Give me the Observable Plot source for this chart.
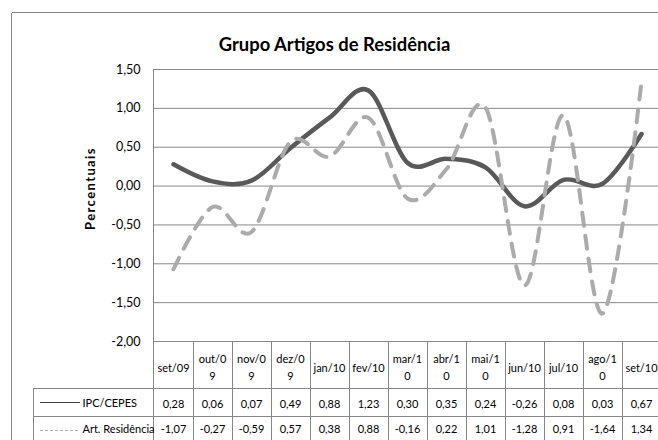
<!DOCTYPE html>
<html>
<head>
<meta charset="utf-8">
<script src="https://cdn.jsdelivr.net/npm/d3@7"></script>
<script src="https://cdn.jsdelivr.net/npm/@observablehq/plot@0.6"></script>
<style>
  html, body { margin: 0; padding: 0; background: #fff; }
  #chart svg { display: block; overflow: visible; }
</style>
</head>
<body>
<div id="chart"></div>
<script>
// ---- data ----
const categories = ["set/09","out/09","nov/09","dez/09","jan/10","fev/10","mar/10","abr/10","mai/10","jun/10","jul/10","ago/10","set/10"];
const tickLabels = ["set/09","out/0\n9","nov/0\n9","dez/0\n9","jan/10","fev/10","mar/1\n0","abr/1\n0","mai/1\n0","jun/10","jul/10","ago/1\n0","set/10"];
const ipcValues = [0.28, 0.06, 0.07, 0.49, 0.88, 1.23, 0.30, 0.35, 0.24, -0.26, 0.08, 0.03, 0.67];
const artValues = [-1.07, -0.27, -0.59, 0.57, 0.38, 0.88, -0.16, 0.22, 1.01, -1.28, 0.91, -1.64, 1.34];
const yTicks = [-2, -1.5, -1, -0.5, 0, 0.5, 1, 1.5];
const seriesNames = ["IPC/CEPES", "Art. Residência"];
const title = "Grupo Artigos de Residência";
const yLabel = "Percentuais";

const ipc = categories.map((c, i) => ({cat: c, v: ipcValues[i]}));
const art = categories.map((c, i) => ({cat: c, v: artValues[i]}));
const fmt = v => v.toFixed(2).replace(".", ",");

const W = 658, H = 440;
const mL = 153, mR = 0, mT = 69, mB = 99;
const gridColor = "#878787";
const ipcColor = "#595959";
const artColor = "#ababab";

// table structure (lines, legend samples, outer border) drawn with the plot's scales
function tableGrid(index, scales, values, dims) {
  const x = scales.x;
  const step = x(categories[1]) - x(categories[0]);
  const yb = dims.height - dims.marginBottom;
  const g = d3.create("svg:g").attr("fill", "none").attr("shape-rendering", "crispEdges");
  const line = (x1, y1, x2, y2, color = gridColor, w = 1, dash = null) =>
    g.append("line").attr("x1", x1).attr("y1", y1).attr("x2", x2).attr("y2", y2)
      .attr("stroke", color).attr("stroke-width", w).attr("stroke-dasharray", dash);
  // outer chart border
  line(11.5, 12.5, dims.width + 5, 12.5);
  line(11.5, 12.5, 11.5, dims.height + 5);
  // y axis line through the table
  line(dims.marginLeft + 0.5, dims.marginTop, dims.marginLeft + 0.5, dims.height + 5);
  // column boundaries
  categories.forEach(c => {
    const xb = Math.round(x(c) + step / 2) + 0.5;
    line(xb, yb, xb, dims.height + 5);
  });
  // row lines
  [yb + 47.5, yb + 75.5].forEach(yy => line(33, yy, dims.width + 5, yy));
  line(33.5, yb + 47, 33.5, dims.height + 5);
  // legend samples
  g.append("line").attr("x1", 40).attr("x2", 80).attr("y1", yb + 61.5).attr("y2", yb + 61.5)
    .attr("stroke", "#404040").attr("stroke-width", 1.2);
  g.append("line").attr("x1", 40).attr("x2", 80).attr("y1", yb + 89.5).attr("y2", yb + 89.5)
    .attr("stroke", artColor).attr("stroke-width", 1).attr("stroke-dasharray", "3,2");
  return g.node();
}

const chart = Plot.plot({
  width: W, height: H,
  marginLeft: mL, marginRight: mR, marginTop: mT, marginBottom: mB,
  style: {fontFamily: "Lato, 'Open Sans', sans-serif", background: "#fff", color: "#000"},
  x: {type: "point", domain: categories, range: [mL, mL + (W - mL) * 13 / 12.9], padding: 0.5, axis: null},
  y: {domain: [-2, 1.5], axis: null},
  marks: [
    Plot.gridY(yTicks, {stroke: gridColor, strokeOpacity: 1, strokeWidth: 1}),
    Plot.axisY(yTicks, {tickFormat: fmt, tickSize: 0, tickPadding: 13, fontSize: 12.5, label: null}),
    tableGrid,
    Plot.line(ipc, {x: "cat", y: "v", curve: "cardinal", stroke: ipcColor, strokeWidth: 4.5}),
    Plot.line(art, {x: "cat", y: "v", curve: "cardinal", stroke: artColor, strokeWidth: 4, strokeDasharray: "13,10", strokeLinecap: "round"}),
    // title & y label
    Plot.text([title], {frameAnchor: "top-left", dx: 181, dy: -24, textAnchor: "middle", lineAnchor: "middle", fontSize: 18.4, fontWeight: "bold"}),
    Plot.text([yLabel], {frameAnchor: "left", dx: -63, dy: -17, rotate: -90, textAnchor: "middle", lineAnchor: "middle", fontSize: 13, fontWeight: "bold"}),
    // data table
    Plot.text(categories, {x: d => d, text: (d, i) => tickLabels[i], frameAnchor: "bottom", dy: 25, lineAnchor: "middle", fontSize: 11, lineHeight: 1.55}),
    Plot.text(ipc, {x: "cat", text: d => fmt(d.v), frameAnchor: "bottom", dy: 63, lineAnchor: "middle", fontSize: 11}),
    Plot.text(art, {x: "cat", text: d => fmt(d.v), frameAnchor: "bottom", dy: 88, lineAnchor: "middle", fontSize: 11}),
    Plot.text([seriesNames[0]], {frameAnchor: "bottom-left", dx: -71, dy: 62, textAnchor: "start", lineAnchor: "middle", fontSize: 11}),
    Plot.text([seriesNames[1]], {frameAnchor: "bottom-left", dx: -71, dy: 88, textAnchor: "start", lineAnchor: "middle", fontSize: 11})
  ]
});
// letter-spacing for the y label, as in the reference
d3.select(chart).selectAll("text").filter(function() { return this.textContent === yLabel; })
  .attr("letter-spacing", "1.4px");
document.getElementById("chart").append(chart);
</script>
</body>
</html>
